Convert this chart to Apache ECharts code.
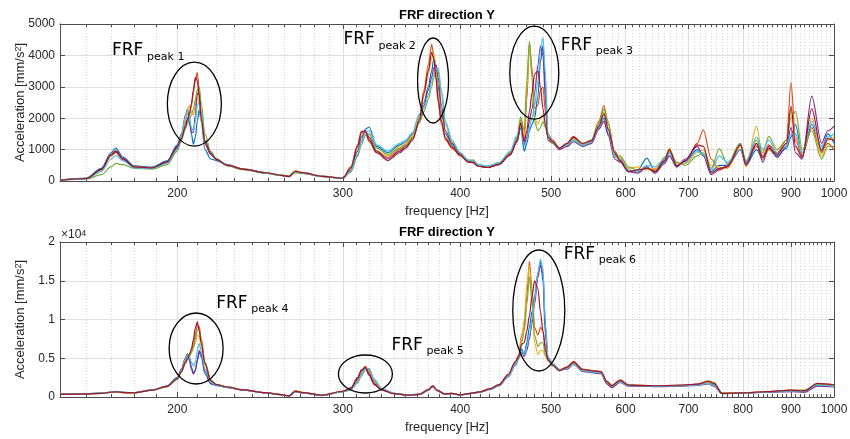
<!DOCTYPE html>
<html><head><meta charset="utf-8">
<script src="https://cdn.jsdelivr.net/npm/echarts@6/dist/echarts.min.js"></script>
<style>html,body{margin:0;padding:0;background:#fff}#c{width:850px;height:439px}</style>
</head><body><div id="c"></div>
<script>
// ---------- DATA ----------
const freqTop = [150,160,166,170,172,175,180,188,195,200,
202,204,205,206,207,208,209,210,211,212,214,217,220,
226,235,248,258,263,267,272,285,300,
306,311,314,317,320,326,335,345,350,356,362,
366,370,373,375,377,379,382,386,392,400,
408,413,418,428,440,452,460,
464,468,471,474,477,480,484,487,490,493,496,502,510,
520,528,540,552,562,569,575,
584,592,604,618,632,645,660,668,680,695,715,726,740,755,770,795,806,827,840,852,870,890,900,910,925,947,970,985,1000];

const topC1 = [30,90,400,900,1050,760,480,440,640,1150,
1500,2100,2300,2000,1500,1170,1400,1900,2270,1900,1000,700,650,
520,390,270,190,140,300,250,150,90,
300,800,1250,1650,1720,1100,900,1150,1250,1500,2100,
2500,3000,3500,3900,3700,3000,2200,1500,1150,850,
650,650,520,460,560,880,1350,
1700,950,1200,1600,1800,2000,2700,3800,4300,3000,1400,1200,1050,
1150,1300,1150,1250,1700,2000,1500,
850,650,300,350,730,300,600,900,450,650,1000,850,300,500,500,1200,500,1000,700,1000,800,1050,1400,1800,800,1800,1000,1500,1200];
const topC2 = [30,80,350,820,950,700,450,420,600,1080,
1350,1700,1900,2100,2400,2800,3200,3450,2900,2200,1300,900,700,
500,380,260,180,160,320,270,160,90,
450,1150,1600,1550,1250,900,750,1000,1150,1400,2000,
2900,3700,4350,4000,3200,2500,1800,1300,1050,800,
620,600,480,440,540,850,1300,
1950,1300,2600,4400,3600,2300,2400,2900,3000,2200,1500,1300,1050,
1200,1420,1180,1300,1900,2400,1800,
950,700,350,300,400,350,700,1000,500,600,1200,1630,700,350,450,1000,600,1100,800,1150,900,1300,3130,1300,800,1700,900,1200,1000];
const topC3 = [35,85,330,780,900,680,440,410,580,1000,
1450,2000,2250,2400,2200,2100,2400,2800,2500,1900,1150,850,680,
510,385,265,185,170,330,270,155,95,
400,1050,1500,1600,1350,950,800,1100,1200,1450,2050,
2700,3400,3900,4050,3600,2800,2000,1400,1100,830,
640,680,500,450,560,900,1400,
1900,1400,2900,4300,3400,2000,1800,2000,2100,1800,1500,1250,1050,
1150,1350,1150,1250,1800,2200,1700,
800,750,400,450,350,400,650,1050,550,550,900,1000,500,450,400,1100,450,1740,700,1000,850,1200,2300,1400,900,2000,800,1300,1400];
const topC4 = [30,75,360,820,920,690,430,400,590,1050,
1400,1850,2000,1850,1550,1550,2100,2800,2750,2100,1200,850,680,
490,370,255,175,140,290,250,145,85,
350,950,1400,1600,1400,950,700,950,1100,1350,1900,
2400,2900,3300,3600,3700,3300,2400,1600,1200,870,
600,580,470,430,520,820,1250,
1800,1150,1400,1900,2300,2800,3700,4300,4000,2600,1300,1200,1000,
1100,1250,1100,1200,1650,1900,1450,
700,600,300,250,450,250,550,800,450,700,1100,800,200,350,500,1000,500,1200,600,1100,750,1100,1700,900,700,2700,1200,1600,1750];
const topC5 = [25,60,200,450,560,520,400,380,520,950,
1300,1650,1800,1950,2100,2300,2600,2900,3000,2500,1500,950,720,
480,360,250,175,150,260,240,140,85,
300,800,1150,1450,1500,1050,850,1050,1150,1350,1850,
2200,2600,3000,3300,3450,3500,2800,1800,1250,900,
660,640,510,470,580,920,1400,
2050,1600,3200,4450,3300,1900,1600,1700,1900,1700,1400,1200,1050,
1180,1380,1170,1300,1850,2300,1900,
750,800,450,350,400,300,750,950,600,500,800,900,400,1030,550,1200,650,1300,900,1420,1000,1300,2000,2220,1000,1600,700,1100,1100];
const topC6 = [30,70,300,700,820,640,420,400,570,1000,
1400,1900,2150,2000,1700,1600,1900,2400,2500,2200,1300,900,700,
500,375,260,180,155,300,260,150,90,
320,850,1250,1550,1600,1150,950,1200,1300,1550,2150,
2300,2750,3150,3400,3550,3600,2900,1900,1300,900,
670,660,520,480,590,940,1450,
1750,1100,1300,1700,2000,2400,3200,4200,4570,3400,1500,1250,1050,
1150,1300,1130,1250,1700,2100,1600,
800,700,350,300,500,450,700,900,500,600,950,850,350,800,600,1000,600,1400,1000,1300,900,1100,1500,1500,900,1900,1100,1400,1500];
const topC7 = [30,80,370,840,960,710,450,420,610,1100,
1350,1750,1950,2150,2450,2900,3300,3200,2700,2000,1250,880,690,
505,380,262,182,150,310,265,150,88,
420,1100,1550,1600,1300,900,650,900,1050,1300,1950,
2800,3500,4100,3900,3300,2600,1900,1350,1080,820,
610,590,470,430,530,840,1280,
1850,1250,1600,2200,2800,3400,3500,3000,2300,1800,1400,1250,1050,
1200,1400,1200,1280,1750,2150,1650,
900,650,300,350,400,300,650,1000,480,650,1150,1100,250,400,450,1150,550,1200,750,1050,850,1200,2380,1100,750,2300,950,1350,1300];

const freqBot = [150,160,166,170,172,175,180,188,195,200,
202,204,205,206,207,208,209,210,211,212,214,217,220,
226,235,248,258,263,267,272,285,300,
306,311,314,317,320,324,330,340,352,362,
370,374,378,385,392,400,410,420,430,440,450,458,
462,465,468,471,474,477,480,484,487,490,493,496,502,510,
520,528,540,555,565,573,580,592,604,620,650,690,715,735,745,760,800,850,900,930,960,1000];

const botC1 = [350,420,490,640,700,590,560,900,1400,2500,
3600,5000,5600,4900,3900,3100,3500,4800,5800,5200,3000,1700,1500,
1250,900,550,300,120,700,550,200,700,
1000,2000,3000,3800,3500,2000,1000,450,250,350,
900,1400,850,400,450,250,450,650,1000,1500,2700,4300,
5200,6200,5500,7000,9000,11000,13000,16000,17500,15000,8000,5000,4200,3500,
3700,4300,3400,3200,3100,1900,1400,2000,1500,1450,1400,1450,1550,1800,1600,450,500,650,800,750,1500,1400];
const botC2 = [340,410,470,610,670,570,550,880,1350,2350,
3300,4400,4900,5400,6000,6800,8000,9300,9100,7600,4500,2200,1600,
1300,920,560,320,150,780,580,230,750,
1100,2200,3300,4000,3200,1800,950,430,240,340,
950,1450,900,420,470,260,470,680,1050,1600,2900,4600,
5500,8000,9000,13000,17500,14000,9000,8000,9000,8500,6500,5000,4200,3500,
3900,4600,3600,3400,3300,2000,1500,2200,1600,1500,1450,1500,1650,2100,1800,500,550,700,900,800,1700,1600];
const botC3 = [350,420,480,620,680,580,555,890,1380,2400,
3400,4600,5200,5600,5900,6300,7000,8000,7800,6600,4200,2100,1550,
1280,910,560,310,140,800,600,220,720,
1000,2100,3100,3900,3400,1900,980,450,250,350,
900,1400,850,400,450,250,450,650,1000,1550,2800,4400,
5400,7500,10000,14500,17000,12000,7000,5500,6000,6000,5200,4800,4000,3400,
3800,4400,3500,3300,3200,1800,1300,2100,1500,1500,1400,1500,1600,1900,1700,480,520,700,850,850,1650,1500];
const botC4 = [345,415,485,630,690,585,560,900,1420,2550,
3600,5000,5500,4700,3600,2950,3400,4600,6000,5600,3300,1800,1500,
1220,880,540,290,110,680,530,190,680,
1200,2500,3500,3700,2800,1600,900,420,230,330,
850,1350,800,380,430,240,430,620,950,1450,2600,4100,
5000,5800,5200,6000,7500,9500,12000,15500,17000,16000,9000,5000,4300,3500,
3600,4200,3300,3100,3000,1700,1200,1900,1400,1400,1350,1400,1500,1700,1400,420,480,620,700,600,1400,1300];
const botC5 = [340,405,460,590,640,560,545,870,1330,2300,
3200,4300,4800,5200,5700,6400,7500,8600,8700,7200,4400,2200,1600,
1260,900,550,300,130,720,560,210,700,
900,1800,2700,3500,3600,2200,1050,470,260,360,
920,1420,870,410,460,255,460,660,1020,1550,2800,4500,
5300,7000,8500,12000,15500,12500,8000,6500,7000,7000,5500,4700,4000,3400,
3750,4350,3450,3250,3150,2100,1500,2000,1550,1500,1450,1500,1600,1800,1900,500,500,680,800,900,1600,1450];
const botC6 = [350,420,490,640,700,590,565,910,1420,2500,
3500,4900,5500,5200,4500,4000,4500,6000,6900,6000,3600,1900,1500,
1240,890,545,300,125,690,540,200,690,
950,1900,2800,3600,3700,2300,1100,480,260,370,
880,1380,830,390,440,245,440,640,980,1480,2650,4200,
5100,6000,5400,6500,8000,10000,12500,16000,17800,16500,9500,5200,4300,3500,
3700,4250,3400,3200,3100,1950,1400,1950,1500,1450,1400,1450,1550,1750,1500,450,500,660,780,700,1550,1350];
const botC7 = [345,410,475,615,675,575,550,885,1360,2380,
3300,4500,5000,5500,6200,7400,8900,9700,8600,7000,4300,2100,1600,
1290,915,555,315,145,760,570,225,740,
1100,2300,3400,3850,3000,1700,920,430,240,340,
940,1440,880,415,465,260,465,670,1040,1600,2900,4550,
5300,6800,7000,8500,10500,13000,15000,14000,11000,8500,6000,4800,4100,3400,
3850,4500,3550,3350,3250,2000,1450,2150,1550,1500,1450,1550,1650,2000,1750,480,530,690,880,780,1750,1550];

const xTickValues = [200,300,400,500,600,700,800,900,1000];
const xMinorValues = [160,170,180,190,
210,220,230,240,250,260,270,280,290,
310,320,330,340,350,360,370,380,390,
410,420,430,440,450,460,470,480,490,
510,520,530,540,550,560,570,580,590,
610,620,630,640,650,660,670,680,690,
710,720,730,740,750,760,770,780,790,
810,820,830,840,850,860,870,880,890,
910,920,930,940,950,960,970,980,990];
const topYTicks = [0,1000,2000,3000,4000,5000];
const botYTicks = [0,5000,10000,15000,20000];
const lineColors = ['#0072BD','#D95319','#EDB120','#7E2F8E','#77AC30','#4DBEEE','#A2142F'];

// annotations (data coordinates; radii in pixels)
const ellipses = [
  {g:0, f:208.5, a:2450, rx:27, ry:42},
  {g:0, f:374.3, a:3200, rx:15.5, ry:42.5},
  {g:0, f:479.7, a:3450, rx:24.5, ry:46.5},
  {g:1, f:209.4, a:6260, rx:27, ry:35.5},
  {g:1, f:317.1, a:2970, rx:27, ry:19},
  {g:1, f:485, a:11160, rx:26, ry:60.5}
];
const peakLabels = [
  {g:0, f:170.4, a:4140, sub:'peak 1'},
  {g:0, f:300.5, a:4490, sub:'peak 2'},
  {g:0, f:511.8, a:4316, sub:'peak 3'},
  {g:1, f:220, a:12060, sub:'peak 4'},
  {g:1, f:338, a:6670, sub:'peak 5'},
  {g:1, f:515.6, a:18380, sub:'peak 6'}
];

// ---------- CHART ----------
const topCurves = [topC1,topC2,topC3,topC4,topC5,topC6,topC7];
const botCurves = [botC1,botC2,botC3,botC4,botC5,botC6,botC7];
topCurves.forEach((c,i)=>{ if(c.length!==freqTop.length) throw new Error('top '+i+' len '+c.length); });
botCurves.forEach((c,i)=>{ if(c.length!==freqBot.length) throw new Error('bot '+i+' len '+c.length); });

const FF = '"Liberation Sans", Arial, Helvetica, sans-serif';
const TXT = '#262626';
const AX = '#4d4d4d';
const GRIDC = '#dedede';

function xAxesFor(g){
  const base = {gridIndex:g, type:'log', logBase:10, min:150, max:1000};
  return [
    Object.assign({}, base, {position:'bottom', name:'frequency [Hz]', nameLocation:'middle', nameGap:24,
      nameMoveOverlap:false,
      nameTextStyle:{color:TXT, fontSize:13, fontFamily:FF},
      axisLine:{show:true, lineStyle:{color:AX, width:1}},
      axisTick:{show:true, inside:true, length:5, customValues:xTickValues, lineStyle:{color:AX}},
      axisLabel:{show:true, customValues:xTickValues, margin:7, color:TXT, fontSize:12, fontFamily:FF,
        formatter:(v)=>String(Math.round(v))},
      splitLine:{show:true, lineStyle:{color:GRIDC, width:1}}, minorTick:{show:false}, minorSplitLine:{show:false}}),
    Object.assign({}, base, {position:'bottom',
      axisLine:{show:false},
      axisTick:{show:true, inside:true, length:3, customValues:xMinorValues, lineStyle:{color:AX}},
      axisLabel:{show:false, customValues:xMinorValues},
      splitLine:{show:true, lineStyle:{color:'#d6d6d6', width:1, type:[1,2]}}}),
    Object.assign({}, base, {position:'top',
      axisLine:{show:true, lineStyle:{color:AX, width:1}},
      axisTick:{show:true, inside:true, length:5, customValues:xTickValues, lineStyle:{color:AX}},
      axisLabel:{show:false, customValues:xTickValues}, splitLine:{show:false}}),
    Object.assign({}, base, {position:'top',
      axisLine:{show:false},
      axisTick:{show:true, inside:true, length:3, customValues:xMinorValues, lineStyle:{color:AX}},
      axisLabel:{show:false, customValues:xMinorValues}, splitLine:{show:false}})
  ];
}
function yAxesFor(g, ticks, fmt){
  const base = {gridIndex:g, type:'value', min:ticks[0], max:ticks[ticks.length-1], interval:ticks[1]-ticks[0]};
  return [
    Object.assign({}, base, {position:'left',
      name:'{a|Acceleration [mm/s}{s|2}{a|]}', nameLocation:'middle', nameGap:33, nameRotate:90,
      nameMoveOverlap:false,
      nameTextStyle:{rich:{a:{color:TXT, fontSize:13, fontFamily:FF}, s:{color:TXT, fontSize:9, fontFamily:FF, verticalAlign:'top'}}},
      axisLine:{show:true, lineStyle:{color:AX, width:1}},
      axisTick:{show:true, inside:true, length:5, lineStyle:{color:AX}},
      axisLabel:{show:true, margin:5, color:TXT, fontSize:12, fontFamily:FF, formatter:fmt},
      splitLine:{show:true, lineStyle:{color:GRIDC, width:1}}}),
    Object.assign({}, base, {position:'right',
      axisLine:{show:true, lineStyle:{color:AX, width:1}},
      axisTick:{show:true, inside:true, length:5, lineStyle:{color:AX}},
      axisLabel:{show:false}, splitLine:{show:false}})
  ];
}

const series = [];
topCurves.forEach((c,i)=>series.push({type:'line', xAxisIndex:0, yAxisIndex:0,
  data:freqTop.map((f,j)=>[f,c[j]]), showSymbol:false, symbol:'none', smooth:0.3, smoothMonotone:'x',
  lineStyle:{width:1.2, color:lineColors[i]}, silent:true, z:3}));
botCurves.forEach((c,i)=>series.push({type:'line', xAxisIndex:4, yAxisIndex:2,
  data:freqBot.map((f,j)=>[f,c[j]]), showSymbol:false, symbol:'none', smooth:0.3, smoothMonotone:'x',
  lineStyle:{width:1.2, color:lineColors[i]}, silent:true, z:3}));

const chart = echarts.init(document.getElementById('c'), null, {renderer:'canvas', width:850, height:439});
chart.setOption({
  animation:false,
  backgroundColor:'#ffffff',
  grid:[{left:60, right:16, top:24, height:157, outerBoundsMode:'none'},
        {left:60, right:16, top:242, height:155, outerBoundsMode:'none'}],
  xAxis:[...xAxesFor(0), ...xAxesFor(1)],
  yAxis:[...yAxesFor(0, topYTicks, v=>String(v)), ...yAxesFor(1, botYTicks, v=>String(v/10000))],
  series
});

// annotations through the axes' own conversion
const gfx = [];
gfx.push({type:'text', x:447, y:15, style:{text:'FRF direction Y', fill:'#000', font:'bold 13px '+FF, align:'center', verticalAlign:'middle'}, z:50});
gfx.push({type:'text', x:447, y:232, style:{text:'FRF direction Y', fill:'#000', font:'bold 13px '+FF, align:'center', verticalAlign:'middle'}, z:50});
const corner = chart.convertToPixel({xAxisIndex:4, yAxisIndex:2}, [150, 20000]);
gfx.push({type:'text', x:corner[0]+1, y:corner[1]-7, style:{text:'{a|×10}{b|4}', rich:{a:{fontSize:12, fontFamily:FF, fill:TXT}, b:{fontSize:9, fontFamily:FF, fill:TXT, verticalAlign:'top'}}, align:'left', verticalAlign:'middle'}, z:50});
ellipses.forEach(e=>{
  const p = chart.convertToPixel({xAxisIndex:e.g*4, yAxisIndex:e.g*2}, [e.f, e.a]);
  gfx.push({type:'ellipse', shape:{cx:p[0], cy:p[1], rx:e.rx, ry:e.ry}, style:{fill:'none', stroke:'#000', lineWidth:1.3}, z:60});
});
peakLabels.forEach(l=>{
  const p = chart.convertToPixel({xAxisIndex:l.g*4, yAxisIndex:l.g*2}, [l.f, l.a]);
  gfx.push({type:'text', x:p[0], y:p[1], style:{text:'FRF', fill:'#000', font:'17px "DejaVu Sans", Verdana, sans-serif', align:'left', verticalAlign:'middle'}, z:60});
  gfx.push({type:'text', x:p[0]+35, y:p[1]+6, style:{text:l.sub, fill:'#000', font:'11px "DejaVu Sans", Verdana, sans-serif', align:'left', verticalAlign:'middle'}, z:60});
});
chart.setOption({graphic:gfx});
</script></body></html>
